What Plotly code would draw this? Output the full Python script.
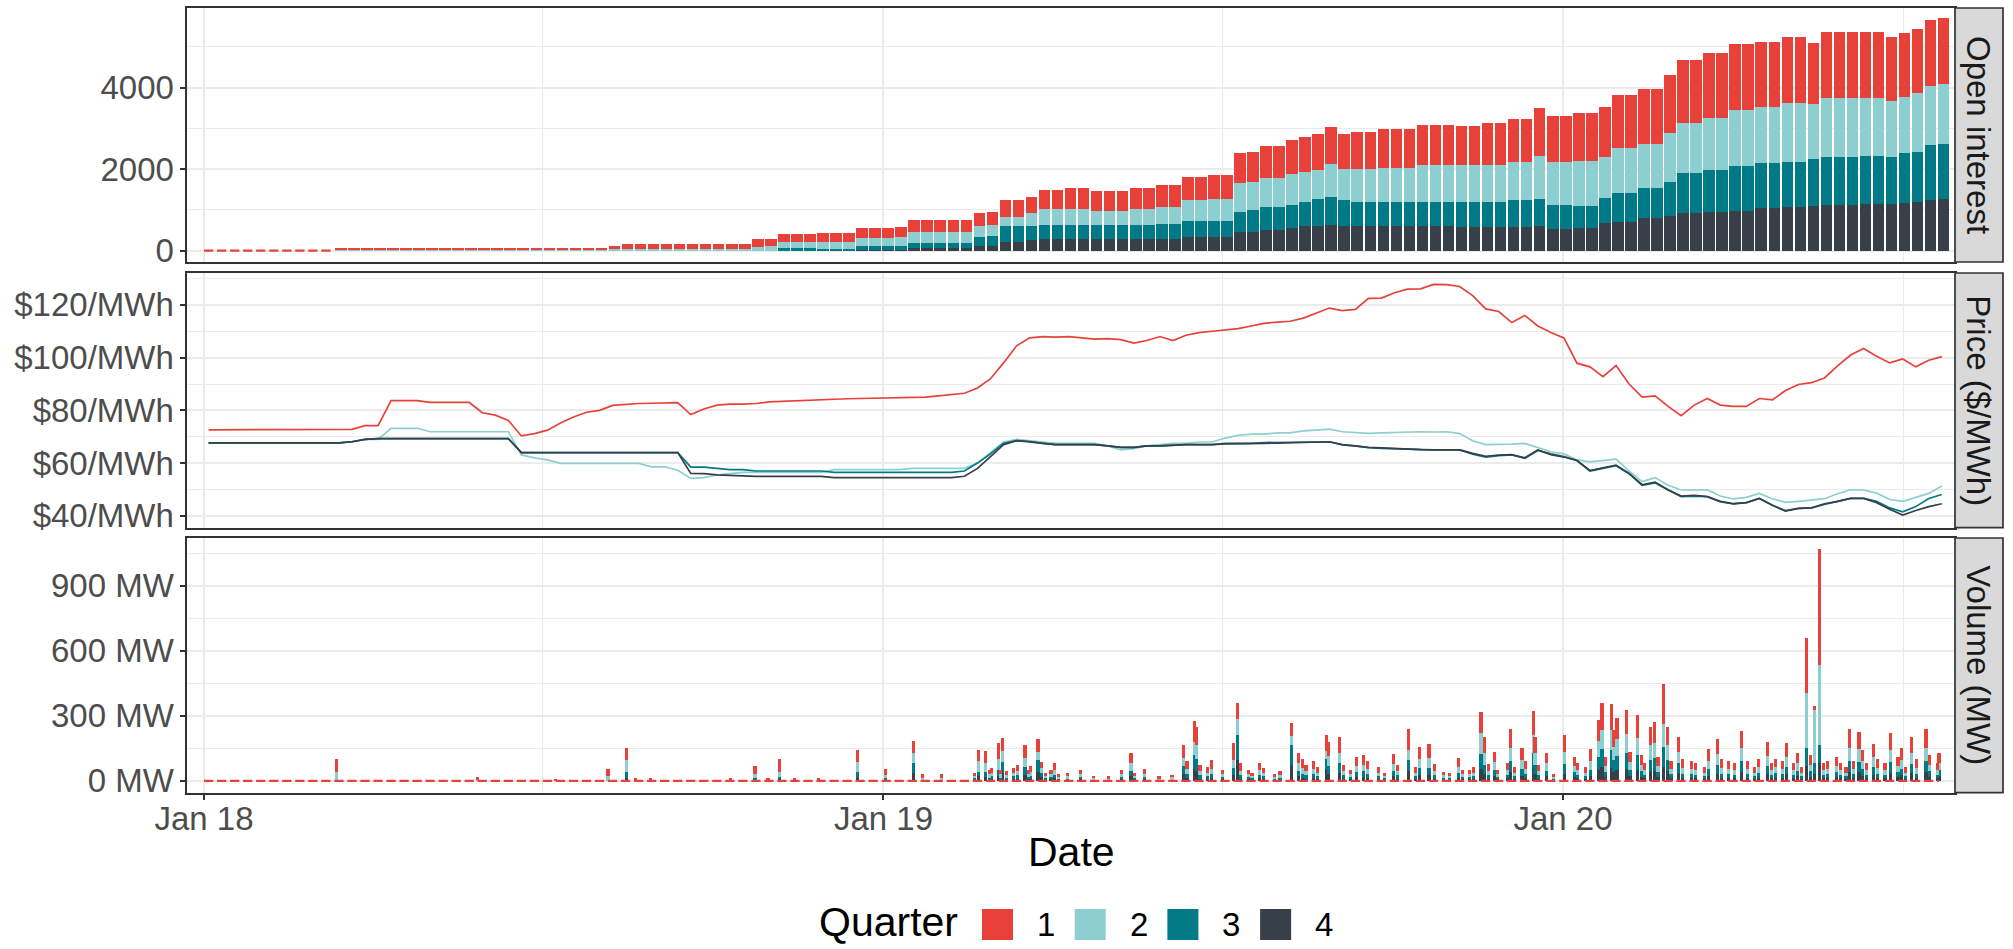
import pandas as pd
import plotly.graph_objects as go
from plotly.subplots import make_subplots

W, H = 2013, 949
FONT = "Liberation Sans, Arial, Helvetica, sans-serif"

quarter_labels = ["1", "2", "3", "4"]
quarter_colors = ["#E8413A", "#8DCFD0", "#007A86", "#373F48"]

# weekly observation dates (week starting Monday)
week_start = pd.date_range("2018-01-01", periods=134, freq="7D")

# ---------------- Open interest (weekly, per quarter) ----------------
oi_q1 = [0, 0, 0, 0, 0, 0, 0, 0, 0, 0,
         55, 55, 55, 55, 55, 55, 55, 55, 55, 55,
         55, 55, 55, 55, 55, 55, 55, 55, 55, 55,
         55, 75, 112, 112, 112, 112, 112, 112, 112, 112,
         112, 131, 178, 170, 196, 196, 196, 220, 220, 220,
         245, 245, 245, 254, 302, 302, 302, 302, 302, 303,
         327, 410, 410, 410, 475, 475, 508, 508, 492, 492,
         492, 508, 508, 549, 549, 573, 573, 597, 597, 736,
         736, 802, 802, 835, 842, 884, 917, 851, 916, 916,
         957, 957, 957, 983, 983, 983, 959, 959, 1016, 1016,
         1041, 1041, 1172, 1139, 1139, 1163, 1163, 1213, 1311, 1311,
         1343, 1343, 1433, 1556, 1556, 1597, 1597, 1613, 1613, 1596,
         1596, 1621, 1621, 1500, 1620, 1620, 1620, 1604, 1604, 1572,
         1555, 1571, 1620, 1612]
oi_q2 = [0, 0, 0, 0, 0, 0, 0, 0, 0, 0,
         10, 10, 10, 10, 10, 10, 10, 10, 10, 10,
         10, 10, 10, 10, 10, 10, 10, 10, 10, 10,
         10, 40, 45, 45, 45, 45, 45, 45, 45, 45,
         45, 45, 101, 116, 147, 147, 147, 161, 161, 161,
         204, 204, 204, 210, 270, 270, 270, 270, 270, 270,
         280, 221, 221, 303, 394, 394, 402, 402, 361, 361,
         361, 402, 402, 418, 418, 517, 517, 534, 534, 698,
         698, 713, 713, 762, 737, 720, 820, 762, 803, 803,
         819, 819, 819, 901, 901, 901, 909, 909, 909, 909,
         941, 941, 1055, 1048, 1048, 1105, 1105, 1023, 1104, 1104,
         1088, 1088, 1186, 1227, 1227, 1268, 1268, 1366, 1366, 1391,
         1391, 1433, 1433, 1350, 1433, 1433, 1433, 1433, 1433, 1384,
         1383, 1433, 1450, 1482]
oi_q3 = [0, 0, 0, 0, 0, 0, 0, 0, 0, 0,
         0, 0, 0, 0, 0, 0, 0, 0, 0, 0,
         0, 0, 0, 0, 0, 0, 0, 0, 0, 0,
         0, 0, 0, 0, 0, 0, 0, 0, 0, 0,
         0, 0, 0, 0, 54, 54, 54, 35, 35, 35,
         98, 98, 98, 105, 106, 106, 106, 106, 106, 220,
         226, 408, 408, 351, 334, 334, 334, 334, 334, 334,
         334, 334, 334, 351, 351, 401, 401, 401, 401, 491,
         532, 558, 558, 574, 598, 648, 672, 631, 598, 598,
         598, 598, 598, 598, 598, 598, 615, 615, 615, 615,
         656, 656, 656, 591, 591, 558, 558, 615, 697, 697,
         738, 738, 845, 967, 967, 1025, 1025, 1107, 1107, 1107,
         1107, 1123, 1123, 1160, 1187, 1187, 1187, 1178, 1178, 1150,
         1220, 1228, 1350, 1350]
oi_q4 = [0, 0, 0, 0, 0, 0, 0, 0, 0, 0,
         0, 0, 0, 0, 0, 0, 0, 0, 0, 0,
         0, 0, 0, 0, 0, 0, 0, 0, 0, 0,
         0, 0, 0, 0, 0, 0, 0, 0, 0, 0,
         0, 0, 0, 0, 5, 5, 5, 10, 10, 10,
         18, 18, 18, 20, 75, 75, 75, 75, 75, 124,
         124, 206, 206, 263, 288, 288, 288, 288, 288, 288,
         288, 288, 288, 296, 296, 327, 327, 327, 327, 466,
         466, 507, 507, 548, 606, 614, 638, 614, 606, 606,
         606, 606, 606, 606, 606, 606, 589, 589, 589, 589,
         589, 589, 614, 531, 531, 548, 548, 671, 712, 712,
         794, 794, 851, 933, 933, 957, 957, 982, 982, 1039,
         1039, 1063, 1063, 1090, 1122, 1122, 1122, 1147, 1147, 1150,
         1180, 1204, 1245, 1262]

# ---------------- Price ($/MWh, weekly, per quarter) ----------------
price_q1 = [72.6, 72.6, 72.6, 72.6, 72.6, 72.6, 72.6, 72.6, 72.6, 72.6,
            72.6, 72.8, 74.2, 74.2, 83.7, 83.7, 83.7, 83.0, 83.0, 83.0,
            83.0, 79.1, 78.2, 76.2, 70.3, 71.2, 72.5, 75.2, 77.5, 79.3,
            80.0, 81.9, 82.3, 82.6, 82.7, 82.9, 82.9, 78.4, 80.5, 82.0,
            82.4, 82.4, 82.6, 83.2, 83.4, 83.6, 84.0, 84.2, 84.4, 84.4,
            84.5, 84.6, 84.6, 84.8, 85.0, 85.0, 85.5, 86.0, 86.5, 88.5,
            92.0, 98.0, 104.5, 107.5, 108.0, 107.8, 108.0, 107.5, 107.0, 107.2,
            106.8, 105.5, 106.5, 108.0, 106.5, 108.5, 109.5, 110.0, 110.5, 111.0,
            112.0, 113.0, 113.5, 113.8, 115.0, 117.0, 118.8, 117.8, 118.3, 122.5,
            122.6, 124.6, 126.0, 126.1, 127.8, 127.7, 127.0, 123.5, 118.5, 117.5,
            113.3, 116.0, 112.0, 109.5, 107.5, 97.9, 96.5, 92.8, 97.0, 90.0,
            85.0, 85.5, 81.5, 78.0, 82.0, 84.5, 82.0, 81.5, 81.5, 84.5,
            84.0, 87.5, 89.8, 90.5, 92.3, 96.9, 101.0, 103.5, 100.5, 98.0,
            99.5, 96.5, 99.0, 100.4]
price_q2 = [67.7, 67.7, 67.7, 67.7, 67.7, 67.7, 67.7, 67.7, 67.7, 67.7,
            67.7, 68.1, 69.0, 69.0, 73.2, 73.2, 73.2, 71.9, 71.9, 71.9,
            71.9, 71.9, 71.9, 71.9, 63.1, 62.0, 61.2, 59.9, 59.9, 59.9,
            59.9, 59.9, 59.9, 59.9, 58.6, 58.6, 57.3, 54.2, 54.5, 55.5,
            56.0, 56.5, 56.5, 56.5, 56.5, 56.5, 56.5, 56.5, 57.5, 57.5,
            57.5, 57.5, 57.5, 57.5, 58.0, 58.0, 58.0, 58.0, 58.0, 60.0,
            64.0, 68.0, 69.0, 68.5, 68.0, 67.5, 67.5, 67.5, 67.5, 66.5,
            65.0, 65.5, 66.5, 67.0, 67.5, 67.5, 68.0, 68.0, 69.5, 70.5,
            71.0, 71.0, 71.5, 71.5, 72.2, 72.5, 72.9, 71.9, 71.6, 71.3,
            71.5, 71.7, 71.8, 71.9, 71.8, 71.9, 71.2, 68.5, 67.0, 67.0,
            67.2, 67.5, 66.0, 64.3, 63.5, 61.2, 60.5, 61.0, 61.5, 57.0,
            53.0, 54.5, 51.6, 49.8, 49.8, 49.9, 47.5, 46.4, 47.0, 48.5,
            46.5, 45.1, 45.5, 46.0, 46.5, 48.4, 49.9, 49.8, 48.6, 46.2,
            45.5, 47.0, 48.5, 51.3]
price_q3 = [67.7, 67.7, 67.7, 67.7, 67.7, 67.7, 67.7, 67.7, 67.7, 67.7,
            67.7, 68.1, 69.0, 69.3, 69.3, 69.3, 69.3, 69.3, 69.3, 69.3,
            69.3, 69.3, 69.3, 69.3, 64.0, 64.0, 64.0, 64.0, 64.0, 64.0,
            64.0, 64.0, 64.0, 64.0, 64.0, 64.0, 64.0, 58.5, 58.5, 58.0,
            57.5, 57.5, 57.0, 57.0, 57.0, 57.0, 57.0, 57.0, 56.5, 56.5,
            56.5, 56.5, 56.5, 56.5, 56.5, 56.5, 56.5, 56.5, 57.0, 60.0,
            63.5, 67.5, 68.5, 68.0, 67.5, 67.0, 67.0, 67.0, 67.0, 66.5,
            66.0, 66.0, 66.5, 66.5, 66.8, 67.0, 67.0, 67.0, 67.5, 67.5,
            67.5, 67.8, 67.8, 67.8, 67.9, 68.0, 68.1, 66.9, 66.5, 65.9,
            65.6, 65.4, 65.2, 65.0, 65.0, 65.0, 65.0, 63.4, 62.3, 62.8,
            63.1, 61.8, 64.8, 63.5, 62.5, 61.0, 57.0, 58.0, 59.0, 56.0,
            51.6, 52.5, 49.8, 47.3, 47.5, 47.3, 45.5, 44.6, 45.0, 46.6,
            44.0, 42.0, 42.8, 43.0, 44.3, 45.5, 46.6, 46.6, 45.5, 43.0,
            41.5, 43.5, 46.6, 48.1]
price_q4 = [67.7, 67.7, 67.7, 67.7, 67.7, 67.7, 67.7, 67.7, 67.7, 67.7,
            67.7, 68.1, 69.0, 69.3, 69.3, 69.3, 69.3, 69.3, 69.3, 69.3,
            69.3, 69.3, 69.3, 69.3, 64.0, 64.0, 64.0, 64.0, 64.0, 64.0,
            64.0, 64.0, 64.0, 64.0, 64.0, 64.0, 64.0, 56.1, 56.0, 55.5,
            55.3, 55.2, 55.0, 55.0, 55.0, 55.0, 55.0, 55.0, 54.5, 54.5,
            54.5, 54.5, 54.5, 54.5, 54.3, 54.3, 54.3, 54.5, 55.0, 58.0,
            62.5, 67.0, 68.5, 68.2, 67.5, 67.0, 67.0, 67.0, 67.0, 66.5,
            66.0, 66.0, 66.5, 66.5, 66.8, 67.0, 67.0, 67.0, 67.3, 67.3,
            67.5, 67.5, 67.6, 67.7, 67.9, 68.0, 68.1, 67.0, 66.5, 66.0,
            65.8, 65.5, 65.3, 65.1, 65.0, 65.0, 65.0, 63.7, 62.6, 63.0,
            63.2, 62.0, 65.0, 63.2, 62.3, 61.0, 57.2, 58.2, 59.2, 56.1,
            51.8, 52.8, 49.8, 47.5, 47.8, 47.3, 45.4, 44.5, 45.0, 46.6,
            44.0, 41.8, 42.8, 43.0, 44.6, 45.5, 46.6, 46.6, 45.0, 42.5,
            40.3, 42.0, 43.5, 44.6]

# ---------------- Volume (MW, daily trading days with volume) ----------------
vol_dates = ["2018-03-13", "2018-05-28", "2018-07-09", "2018-08-06", "2018-08-16",
             "2018-08-21", "2018-08-29", "2018-10-11", "2018-10-24", "2018-10-31",
             "2018-11-06", "2018-11-14", "2018-11-27", "2018-12-18", "2019-01-02",
             "2019-01-17", "2019-01-22", "2019-02-01", "2019-02-19", "2019-02-21",
             "2019-02-25", "2019-02-27", "2019-02-28", "2019-03-04", "2019-03-05",
             "2019-03-06", "2019-03-08", "2019-03-12", "2019-03-14", "2019-03-18",
             "2019-03-20", "2019-03-21", "2019-03-25", "2019-03-27", "2019-03-29",
             "2019-04-01", "2019-04-03", "2019-04-05", "2019-04-10", "2019-04-17",
             "2019-04-24", "2019-05-02", "2019-05-09", "2019-05-14", "2019-05-16",
             "2019-05-21", "2019-05-29", "2019-06-05", "2019-06-11", "2019-06-13",
             "2019-06-17", "2019-06-18", "2019-06-20", "2019-06-24", "2019-06-26",
             "2019-07-02", "2019-07-08", "2019-07-10", "2019-07-12", "2019-07-16",
             "2019-07-18", "2019-07-22", "2019-07-24", "2019-07-30", "2019-08-02",
             "2019-08-08", "2019-08-12", "2019-08-14", "2019-08-16", "2019-08-20",
             "2019-08-22", "2019-08-27", "2019-08-28", "2019-09-03", "2019-09-05",
             "2019-09-09", "2019-09-12", "2019-09-16", "2019-09-18", "2019-09-24",
             "2019-09-27", "2019-10-02", "2019-10-04", "2019-10-10", "2019-10-14",
             "2019-10-16", "2019-10-21", "2019-10-24", "2019-10-29", "2019-11-01",
             "2019-11-06", "2019-11-08", "2019-11-12", "2019-11-14", "2019-11-18",
             "2019-11-20", "2019-11-22", "2019-11-25", "2019-11-27", "2019-12-02",
             "2019-12-04", "2019-12-06", "2019-12-10", "2019-12-12", "2019-12-16",
             "2019-12-17", "2019-12-19", "2019-12-23", "2019-12-27", "2020-01-02",
             "2020-01-07", "2020-01-09", "2020-01-13", "2020-01-16", "2020-01-20",
             "2020-01-22", "2020-01-24", "2020-01-27", "2020-01-28", "2020-01-30",
             "2020-02-04", "2020-02-06", "2020-02-10", "2020-02-12", "2020-02-14",
             "2020-02-17", "2020-02-19", "2020-02-21", "2020-02-24", "2020-02-26",
             "2020-02-28", "2020-03-03", "2020-03-05", "2020-03-10", "2020-03-12",
             "2020-03-17", "2020-03-19", "2020-03-24", "2020-03-26", "2020-03-30",
             "2020-04-02", "2020-04-06", "2020-04-09", "2020-04-13", "2020-04-15",
             "2020-04-20", "2020-04-22", "2020-04-24", "2020-04-28", "2020-04-30",
             "2020-05-04", "2020-05-06", "2020-05-08", "2020-05-11", "2020-05-13",
             "2020-05-15", "2020-05-18", "2020-05-20", "2020-05-22", "2020-05-27",
             "2020-05-29", "2020-06-01", "2020-06-03", "2020-06-05", "2020-06-08",
             "2020-06-10", "2020-06-12", "2020-06-16", "2020-06-18", "2020-06-22",
             "2020-06-25", "2020-06-29", "2020-07-01", "2020-07-03", "2020-07-06",
             "2020-07-09", "2020-07-14", "2020-07-16", "2020-07-20", "2020-07-21"]
vol_q1 = [59, 12, 8, 34, 58, 6, 8, 8, 38, 8,
          59, 6, 6, 54, 30, 56, 15, 15, 15, 50,
          55, 20, 25, 70, 20, 60, 18, 25, 30, 62,
          20, 28, 61, 30, 15, 20, 30, 12, 15, 20,
          10, 8, 20, 50, 15, 22, 8, 10, 60, 35,
          94, 85, 30, 25, 40, 20, 75, 72, 35, 20,
          15, 30, 24, 12, 18, 59, 50, 40, 30, 35,
          25, 72, 65, 70, 30, 20, 40, 45, 35, 25,
          15, 45, 30, 97, 25, 55, 65, 30, 15, 15,
          40, 20, 20, 25, 97, 70, 30, 50, 20, 30,
          87, 25, 55, 35, 112, 70, 30, 50, 12, 80,
          40, 30, 25, 55, 98, 121, 40, 120, 80, 100,
          110, 50, 105, 45, 30, 85, 95, 40, 182, 85,
          35, 70, 40, 35, 30, 25, 55, 70, 40, 35,
          30, 80, 35, 25, 38, 65, 30, 38, 35, 63,
          30, 48, 25, 257, 45, 20, 535, 30, 35, 40,
          30, 25, 85, 35, 80, 50, 30, 60, 40, 30,
          80, 40, 55, 25, 73, 40, 85, 45, 30, 47]
vol_q2 = [41, 5, 2, 20, 52, 6, 7, 4, 20, 4,
          25, 4, 4, 48, 12, 48, 8, 8, 10, 50,
          40, 15, 15, 50, 15, 50, 12, 15, 20, 42,
          14, 18, 40, 22, 10, 14, 22, 8, 10, 14,
          6, 6, 14, 35, 10, 15, 6, 8, 40, 25,
          60, 64, 20, 18, 25, 14, 40, 75, 22, 14,
          10, 22, 16, 8, 12, 43, 35, 28, 20, 25,
          18, 40, 45, 50, 20, 14, 30, 32, 25, 18,
          10, 33, 20, 43, 18, 40, 45, 22, 12, 10,
          30, 14, 14, 18, 94, 55, 22, 35, 14, 22,
          60, 18, 40, 25, 80, 55, 20, 35, 8, 55,
          30, 22, 18, 40, 73, 91, 30, 92, 60, 75,
          90, 35, 80, 32, 22, 65, 70, 30, 108, 65,
          25, 53, 28, 25, 22, 18, 38, 50, 28, 25,
          22, 60, 25, 18, 27, 47, 22, 27, 25, 45,
          22, 35, 18, 253, 32, 245, 368, 22, 25, 30,
          22, 18, 60, 25, 58, 36, 22, 45, 28, 22,
          57, 30, 40, 18, 52, 28, 60, 32, 22, 33]
vol_q3 = [0, 0, 0, 0, 30, 0, 0, 0, 8, 0,
          10, 0, 0, 25, 8, 46, 4, 4, 8, 22,
          25, 10, 12, 32, 10, 50, 8, 12, 15, 35,
          10, 14, 52, 20, 7, 10, 16, 6, 6, 10,
          4, 4, 10, 25, 7, 10, 4, 5, 36, 18,
          65, 55, 15, 12, 18, 10, 32, 115, 15, 10,
          7, 16, 12, 6, 8, 93, 25, 18, 15, 18,
          12, 47, 40, 45, 15, 10, 22, 25, 18, 12,
          7, 25, 15, 50, 12, 35, 35, 15, 8, 7,
          20, 10, 10, 12, 70, 45, 15, 28, 10, 16,
          50, 12, 32, 18, 70, 45, 15, 25, 6, 45,
          22, 16, 12, 30, 60, 80, 22, 80, 55, 66,
          70, 28, 65, 25, 16, 55, 60, 22, 90, 55,
          18, 45, 20, 18, 16, 12, 30, 42, 20, 18,
          16, 50, 18, 12, 20, 38, 16, 20, 18, 36,
          16, 27, 12, 80, 25, 50, 83, 16, 18, 22,
          16, 12, 50, 18, 48, 30, 16, 37, 20, 16,
          47, 22, 30, 12, 43, 20, 50, 25, 16, 28]
vol_q4 = [0, 0, 0, 0, 12, 0, 0, 0, 3, 0,
          6, 0, 0, 15, 5, 35, 3, 3, 5, 20,
          16, 5, 8, 20, 5, 38, 6, 8, 10, 27,
          6, 10, 42, 16, 5, 6, 12, 4, 4, 6,
          2, 2, 6, 20, 5, 8, 2, 3, 30, 12,
          56, 45, 10, 8, 12, 6, 25, 95, 10, 6,
          5, 12, 8, 4, 6, 72, 20, 14, 10, 12,
          8, 52, 30, 35, 10, 6, 18, 18, 12, 8,
          5, 20, 10, 47, 8, 25, 25, 10, 5, 5,
          15, 6, 6, 8, 55, 30, 10, 22, 6, 12,
          40, 8, 23, 12, 60, 30, 10, 20, 4, 31,
          18, 12, 8, 20, 50, 65, 18, 60, 41, 50,
          56, 22, 52, 18, 12, 43, 45, 18, 65, 43,
          12, 35, 12, 12, 12, 8, 23, 33, 12, 12,
          12, 39, 12, 8, 15, 30, 12, 15, 12, 29,
          12, 20, 8, 70, 18, 30, 82, 12, 12, 18,
          12, 8, 42, 12, 40, 24, 12, 28, 12, 12,
          38, 18, 25, 8, 35, 12, 42, 18, 12, 22]

# ---------------------------------------------------------------------
DAY_MS = 86400000
bar_x = week_start + pd.Timedelta(hours=84)
line_x = week_start + pd.Timedelta(hours=60)
vol_x = pd.to_datetime(vol_dates)

oi = [oi_q1, oi_q2, oi_q3, oi_q4]
price = [price_q1, price_q2, price_q3, price_q4]
vol = [vol_q1, vol_q2, vol_q3, vol_q4]

fig = make_subplots(rows=3, cols=1, shared_xaxes=True, vertical_spacing=0.01)

# open interest stacked bars (bottom: quarter 4)
for k in [3, 2, 1, 0]:
    fig.add_trace(go.Bar(x=bar_x, y=oi[k], width=6.2 * DAY_MS, name=quarter_labels[k],
                         marker=dict(color=quarter_colors[k], line=dict(width=0)),
                         showlegend=False, hoverinfo="skip"), row=1, col=1)
first_oi = next(i for i, v in enumerate(oi_q1) if v > 0)
fig.add_trace(go.Scatter(x=[week_start[0], week_start[first_oi]], y=[0, 0], mode="lines",
                         line=dict(color=quarter_colors[0], width=2.2, dash="9.3px,3.73px"),
                         showlegend=False, hoverinfo="skip"), row=1, col=1)

# price lines
for k in range(4):
    fig.add_trace(go.Scatter(x=line_x, y=price[k], mode="lines",
                             line=dict(color=quarter_colors[k], width=1.7),
                             showlegend=False, hoverinfo="skip"), row=2, col=1)

# volume stacked bars
for k in [3, 2, 1, 0]:
    fig.add_trace(go.Bar(x=vol_x, y=vol[k], width=1.7 * DAY_MS,
                         marker=dict(color=quarter_colors[k], line=dict(width=0)),
                         showlegend=False, hoverinfo="skip"), row=3, col=1)
fig.add_trace(go.Scatter(x=[week_start[0], vol_x[-1]], y=[0, 0], mode="lines",
                         line=dict(color=quarter_colors[0], width=2.2, dash="9.3px,3.73px"),
                         showlegend=False, hoverinfo="skip"), row=3, col=1)

# ---------------- layout ----------------
px_x = lambda v: v / W
px_y = lambda v: 1 - v / H

X0, X1 = 187.3, 1955.0
panels = [(8.0, 262.0), (273.0, 527.7), (538.0, 792.7)]

GRID = "#EBEBEB"
LINE = "#333333"
TXT = "#4D4D4D"

fig.update_layout(width=W, height=H, margin=dict(l=0, r=0, t=0, b=0, autoexpand=False),
                  barmode="stack", plot_bgcolor="white", paper_bgcolor="white",
                  showlegend=False, font=dict(family=FONT, color=TXT))

x_range = [pd.Timestamp("2017-12-23 01:00"), pd.Timestamp("2020-07-29 14:00")]
x_major = ["2018-01-01", "2019-01-01", "2020-01-01"]
x_major_txt = ["Jan 18", "Jan 19", "Jan 20"]
x_minor = ["2018-07-02", "2019-07-02", "2020-07-02"]

for r in (1, 2, 3):
    fig.update_xaxes(domain=[px_x(X0), px_x(X1)], range=x_range, type="date",
                     automargin=False,
                     showline=True, mirror=True, linecolor=LINE, linewidth=1.7,
                     showgrid=True, gridcolor=GRID, gridwidth=1.8, zeroline=False,
                     tickmode="array", tickvals=x_major, ticktext=x_major_txt,
                     minor=dict(tickvals=x_minor, showgrid=True, gridcolor=GRID,
                                gridwidth=1.1, ticks=""),
                     showticklabels=(r == 3), ticks=("outside" if r == 3 else ""),
                     ticklen=5, tickwidth=1.5, tickcolor=LINE, ticklabelstandoff=-9,
                     tickfont=dict(size=33, color=TXT, family=FONT),
                     row=r, col=1)

y_specs = [
    dict(range=[-277, 5956], tickvals=[0, 2000, 4000], ticktext=["0", "2000", "4000"],
         minor=[1000, 3000, 5000]),
    dict(range=[35.5, 132.1], tickvals=[40, 60, 80, 100, 120],
         ticktext=["$40/MWh", "$60/MWh", "$80/MWh", "$100/MWh", "$120/MWh"],
         minor=[50, 70, 90, 110, 130]),
    dict(range=[-55, 1120], tickvals=[0, 300, 600, 900],
         ticktext=["0 MW", "300 MW", "600 MW", "900 MW"],
         minor=[150, 450, 750, 1050]),
]
for r, spec in enumerate(y_specs, start=1):
    top, bot = panels[r - 1]
    fig.update_yaxes(domain=[px_y(bot), px_y(top)], range=spec["range"],
                     automargin=False,
                     tickmode="array", tickvals=spec["tickvals"], ticktext=spec["ticktext"],
                     minor=dict(tickvals=spec["minor"], showgrid=True, gridcolor=GRID,
                                gridwidth=1.1, ticks=""),
                     showline=True, mirror=True, linecolor=LINE, linewidth=1.7,
                     showgrid=True, gridcolor=GRID, gridwidth=1.8, zeroline=False,
                     ticks="outside", ticklen=5, tickwidth=1.5, tickcolor=LINE,
                     tickfont=dict(size=33, color=TXT, family=FONT),
                     row=r, col=1)

# facet strips
strip_labels = ["Open interest", "Price ($/MWh)", "Volume (MW)"]
SX0, SX1 = 1955.0, 2003.0
for (top, bot), lab in zip(panels, strip_labels):
    fig.add_shape(type="rect", xref="paper", yref="paper",
                  x0=px_x(SX0), x1=px_x(SX1), y0=px_y(bot), y1=px_y(top),
                  fillcolor="#D9D9D9", line=dict(color=LINE, width=1.7), layer="above")
    fig.add_annotation(xref="paper", yref="paper", x=px_x((SX0 + SX1) / 2),
                       y=px_y((top + bot) / 2), text=lab, textangle=90, showarrow=False,
                       font=dict(size=33, color="#1A1A1A", family=FONT),
                       xanchor="center", yanchor="middle")

# x-axis title
fig.add_annotation(xref="paper", yref="paper", x=px_x((X0 + X1) / 2), y=px_y(852),
                   text="Date", showarrow=False, xanchor="center", yanchor="middle",
                   font=dict(size=41, color="black", family=FONT))

# legend (drawn manually to match ggplot key size)
LEG_Y0, LEG_Y1 = 909.0, 940.0
fig.add_annotation(xref="paper", yref="paper", x=px_x(960), y=px_y(922),
                   text="Quarter", showarrow=False, xanchor="right", yanchor="middle",
                   font=dict(size=41, color="black", family=FONT))
for k in range(4):
    sx = 982.0 + 92.7 * k
    fig.add_shape(type="rect", xref="paper", yref="paper",
                  x0=px_x(sx), x1=px_x(sx + 31), y0=px_y(LEG_Y1), y1=px_y(LEG_Y0),
                  fillcolor=quarter_colors[k], line=dict(width=0))
    fig.add_annotation(xref="paper", yref="paper", x=px_x(sx + 53), y=px_y(924),
                       text=quarter_labels[k], showarrow=False, xanchor="left",
                       yanchor="middle", font=dict(size=33, color="black", family=FONT))

fig.write_html("out.html", config={"displayModeBar": False},
               post_script="document.body.style.margin='0';document.body.style.overflow='hidden';")
